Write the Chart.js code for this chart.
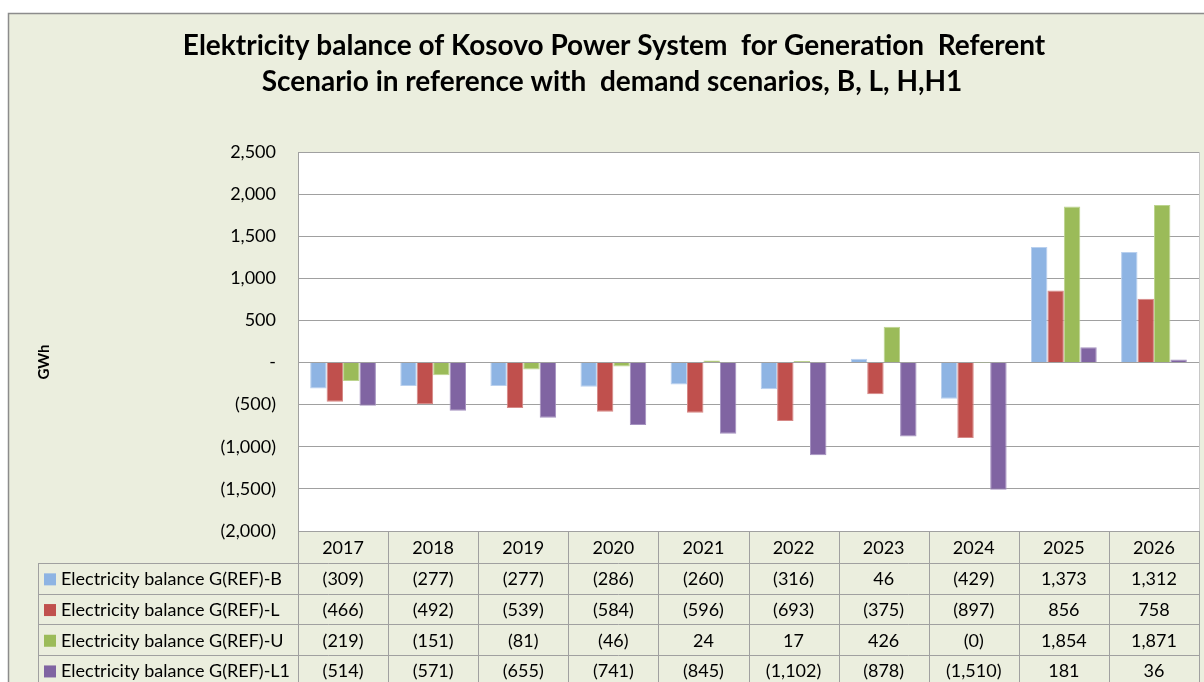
<!DOCTYPE html>
<html>
<head>
<meta charset="utf-8">
<script src="https://cdn.jsdelivr.net/npm/chart.js@4"></script>
<style>
  body { margin: 0; background: #fff; }
  #wrap { width: 1204px; height: 682px; }
</style>
</head>
<body>
<div id="wrap"><canvas id="balanceChart"></canvas></div>
<script>
// data
const years = ["2017", "2018", "2019", "2020", "2021", "2022", "2023", "2024", "2025", "2026"];
const balanceB = [-309, -277, -277, -286, -260, -316, 46, -429, 1373, 1312];
const balanceL = [-466, -492, -539, -584, -596, -693, -375, -897, 856, 758];
const balanceU = [-219, -151, -81, -46, 24, 17, 426, -0.4, 1854, 1871];
const balanceL1 = [-514, -571, -655, -741, -845, -1102, -878, -1510, 181, 36];
const seriesNames = ["Electricity balance G(REF)-B", "Electricity balance G(REF)-L", "Electricity balance G(REF)-U", "Electricity balance G(REF)-L1"];
const titleLines = ["Elektricity balance of Kosovo Power System  for Generation  Referent", "Scenario in reference with  demand scenarios, B, L, H,H1"];

const colors = ["#8EB4E3", "#C0504D", "#9BBB59", "#8064A2"];
const edges = ["#B9D0EE", "#D68886", "#BCD48E", "#A592C0"];
const bg = "#EBEEDE";
const lineGray = "#A0A0A0";
const font = "Lato, Calibri, sans-serif";

// Excel style numbers: 1,234 / (1,234) / -
function fmt(v) {
    let r = Math.round(Math.abs(v)).toLocaleString("en-US");
    if (v < 0) return "(" + r + ")";
    return r;
}

const framePlugin = {
    id: "frame",
    beforeDraw(chart) {
        const c = chart.ctx;
        const a = chart.chartArea;
        c.save();
        c.fillStyle = "#fff";
        c.fillRect(0, 0, chart.width, chart.height);
        c.fillStyle = bg;
        c.fillRect(8, 13, chart.width, chart.height);
        c.strokeStyle = "#8C8C8C";
        c.lineWidth = 1.5;
        c.strokeRect(8.5, 13.5, chart.width + 10, chart.height + 10);
        c.fillStyle = "#fff";
        c.fillRect(a.left, a.top, a.right - a.left, a.bottom - a.top);
        c.restore();
    },
    afterDraw(chart) {
        const c = chart.ctx;
        const a = chart.chartArea;
        const x = chart.scales.x;
        const colW = (a.right - a.left) / years.length;
        c.save();

        // title
        c.fillStyle = "#000";
        c.textAlign = "center";
        c.textBaseline = "middle";
        c.font = "bold 28px " + font;
        c.fillText(titleLines[0], 614, 46);
        c.fillText(titleLines[1], 612, 82);

        // axis title
        c.save();
        c.translate(44, 362);
        c.rotate(-Math.PI / 2);
        c.font = "bold 15px " + font;
        c.fillText("GWh", 0, 0);
        c.restore();

        // data table
        const headTop = a.bottom;
        const headH = 32;
        const rowH = 30.7;
        const tableLeft = 38;
        c.strokeStyle = lineGray;
        c.lineWidth = 1;
        c.font = "18px " + font;

        // horizontal lines
        c.beginPath();
        c.moveTo(a.left, headTop + 0.5);
        c.lineTo(a.right, headTop + 0.5);
        for (let r = 0; r <= 4; r++) {
            const y = Math.round(headTop + headH + r * rowH) + 0.5;
            c.moveTo(tableLeft, y);
            c.lineTo(a.right, y);
        }
        // vertical lines
        c.moveTo(tableLeft + 0.5, headTop + headH);
        c.lineTo(tableLeft + 0.5, chart.height);
        for (let i = 0; i <= years.length; i++) {
            const xx = Math.round(a.left + i * colW) + 0.5;
            c.moveTo(xx, headTop);
            c.lineTo(xx, chart.height);
        }
        c.stroke();

        const rows = [balanceB, balanceL, balanceU, balanceL1];
        c.fillStyle = "#000";
        c.textAlign = "center";
        years.forEach((yr, i) => {
            c.fillText(yr, x.getPixelForValue(i), headTop + headH / 2 + 1);
        });
        rows.forEach((vals, r) => {
            const cy = headTop + headH + r * rowH + rowH / 2 + 1;
            c.fillStyle = colors[r];
            c.fillRect(44, cy - 6, 12, 12);
            c.fillStyle = "#000";
            c.textAlign = "left";
            c.fillText(seriesNames[r], 61, cy);
            c.textAlign = "center";
            vals.forEach((v, i) => {
                c.fillText(fmt(v), x.getPixelForValue(i), cy);
            });
        });

        // plot right edge
        c.strokeStyle = "#C8C8C8";
        c.beginPath();
        c.moveTo(a.right + 0.5, a.top);
        c.lineTo(a.right + 0.5, a.bottom);
        c.stroke();
        c.restore();
    }
};

const ctx = document.getElementById("balanceChart").getContext("2d");
new Chart(ctx, {
    type: "bar",
    data: {
        labels: years,
        datasets: [balanceB, balanceL, balanceU, balanceL1].map((d, i) => ({
            label: seriesNames[i],
            data: d,
            backgroundColor: colors[i],
            borderColor: edges[i],
            borderWidth: 1,
            categoryPercentage: 0.73,
            barPercentage: 1.0
        }))
    },
    options: {
        responsive: true,
        maintainAspectRatio: false,
        animation: false,
        layout: { padding: { top: 152, bottom: 151, right: 5, left: 0 } },
        plugins: {
            legend: { display: false },
            title: { display: false },
            tooltip: { enabled: false }
        },
        scales: {
            x: { display: false },
            y: {
                min: -2000,
                max: 2500,
                afterFit(scale) { scale.width = 298; },
                ticks: {
                    stepSize: 500,
                    padding: 22,
                    color: "#000",
                    font: { family: font, size: 18 },
                    callback: (v) => v === 0 ? "-" : fmt(v)
                },
                grid: { color: lineGray, drawTicks: false },
                border: { display: true, color: lineGray }
            }
        }
    },
    plugins: [framePlugin]
});
</script>
</body>
</html>
